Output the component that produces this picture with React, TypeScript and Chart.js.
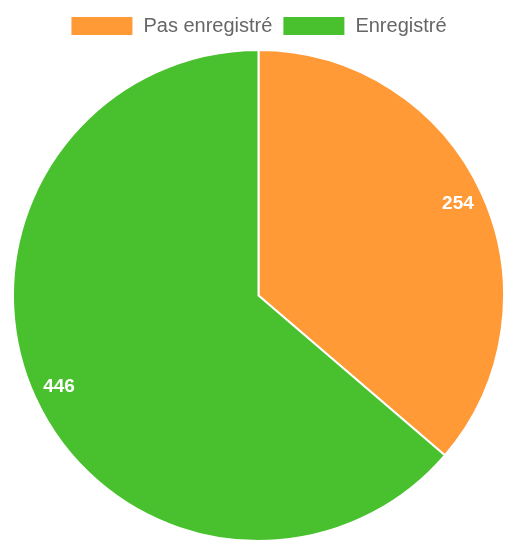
import React, { useEffect, useRef } from "react";
import { Chart, registerables } from "chart.js";

Chart.register(...registerables);

const categories = ["Pas enregistré", "Enregistré"];
const values = [254, 446];
const colors = ["#FF9A36", "#49C12F"];

const labelPlugin = {
  id: "sliceLabels",
  afterDatasetsDraw(chart: any) {
    const ctx = chart.ctx;
    const meta = chart.getDatasetMeta(0);
    ctx.save();
    ctx.fillStyle = "#ffffff";
    ctx.font = "bold 19px 'Liberation Sans', Arial, sans-serif";
    ctx.textAlign = "center";
    ctx.textBaseline = "middle";
    meta.data.forEach((arc: any, i: number) => {
      const p = arc.getProps(["x", "y", "startAngle", "endAngle", "outerRadius"], true);
      const mid = (p.startAngle + p.endAngle) / 2;
      const r = p.outerRadius - 26;
      ctx.fillText(String(values[i]), p.x + Math.cos(mid) * r, p.y + Math.sin(mid) * r);
    });
    ctx.restore();
  },
};

export default function App() {
  const ref = useRef<HTMLCanvasElement>(null);
  useEffect(() => {
    const chart = new Chart(ref.current!, {
      type: "pie",
      data: {
        labels: categories,
        datasets: [
          {
            data: values,
            backgroundColor: colors,
            borderColor: "#ffffff",
            borderWidth: 2,
          },
        ],
      },
      options: {
        responsive: false,
        animation: false,
        layout: { padding: { left: 12, right: 2, bottom: 0, top: 6 } },
        plugins: {
          legend: {
            position: "top",
            labels: {
              boxWidth: 63,
              boxHeight: 20,
              padding: 10,
              color: "#666666",
              font: { size: 20, family: "'Liberation Sans', Arial, sans-serif" },
            },
          },
          tooltip: { enabled: false },
        },
      },
      plugins: [labelPlugin],
    });
    return () => chart.destroy();
  }, []);
  return (
    <div style={{ position: "fixed", left: 0, top: 0, width: 507, height: 545, background: "#fff" }}>
      <canvas ref={ref} width={507} height={545} style={{ display: "block" }} />
    </div>
  );
}
